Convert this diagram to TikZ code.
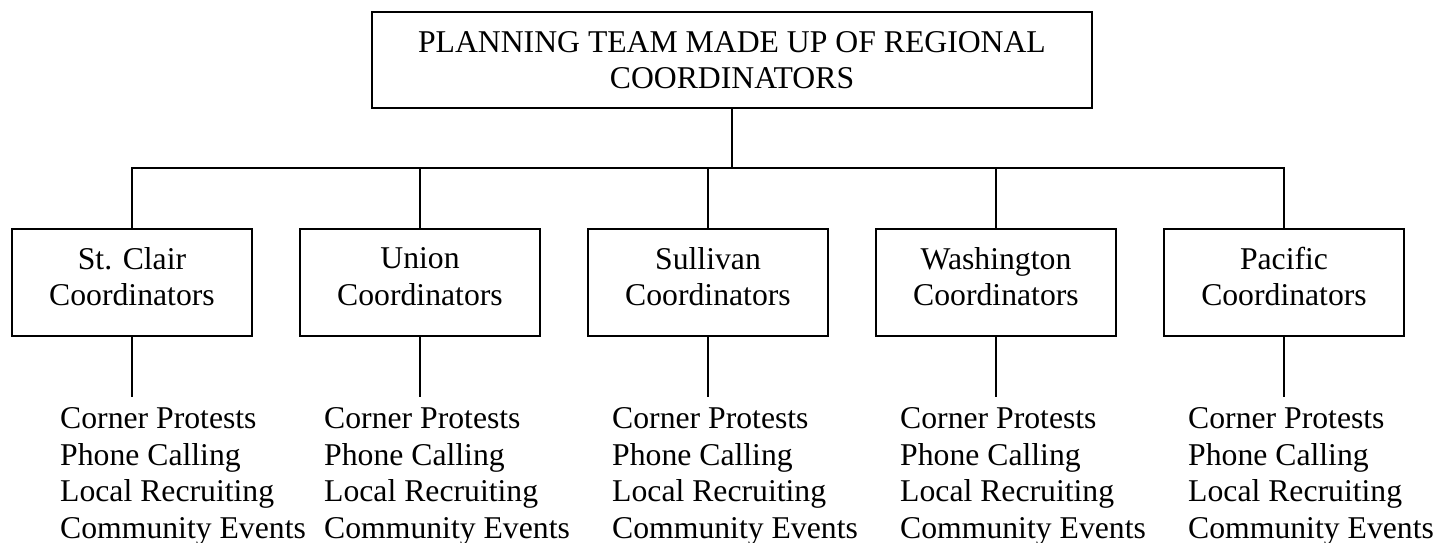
\documentclass[tikz,border=0pt]{standalone}
\usepackage{fontspec}
\setmainfont{Liberation Serif}
\newcommand{\lowpad}{\rule[-12pt]{0pt}{12pt}}
\begin{document}
\begin{tikzpicture}[x=1pt,y=-1pt,
  every node/.style={font=\fontsize{31.7}{36.5}\selectfont},
  bigbox/.style={draw,line width=2pt,minimum width=720pt,minimum height=96pt,align=center,inner sep=0pt},
  region/.style={draw,line width=2pt,minimum width=240pt,minimum height=107pt,align=center,inner sep=0pt},
  tasks/.style={anchor=base west,align=left,inner sep=0pt},
  conn/.style={line width=2pt}]
\useasboundingbox (0,0) rectangle (1437,543);
\node[bigbox] (top) at (732,60) {PLANNING TEAM MADE UP OF REGIONAL\\COORDINATORS};
\coordinate (bus) at (732,168);
\node[region] (r1) at (132,282.5) {St. Clair\\Coordinators\lowpad};
\node[region] (r2) at (420,282.5) {Union\\Coordinators\lowpad};
\node[region] (r3) at (708,282.5) {Sullivan\\Coordinators\lowpad};
\node[region] (r4) at (996,282.5) {Washington\\Coordinators\lowpad};
\node[region] (r5) at (1284,282.5) {Pacific\\Coordinators\lowpad};
\foreach \i/\x/\lx in {1/132/60,2/420/324,3/708/612,4/996/900,5/1284/1188}{
  \coordinate (e\i) at (\x,397);
  \node[tasks] (l\i) at (\lx,538) {Corner Protests\\Phone Calling\\Local Recruiting\\Community Events};
  \draw[conn] (r\i.south) -- (e\i);
}
\draw[conn] (top.south) -- (bus);
\draw[conn] (r1.north) -- (r1.north |- bus) -- (r5.north |- bus) -- (r5.north);
\foreach \i in {2,3,4}{\draw[conn] (r\i.north) -- (r\i.north |- bus);}
\end{tikzpicture}
\end{document}
